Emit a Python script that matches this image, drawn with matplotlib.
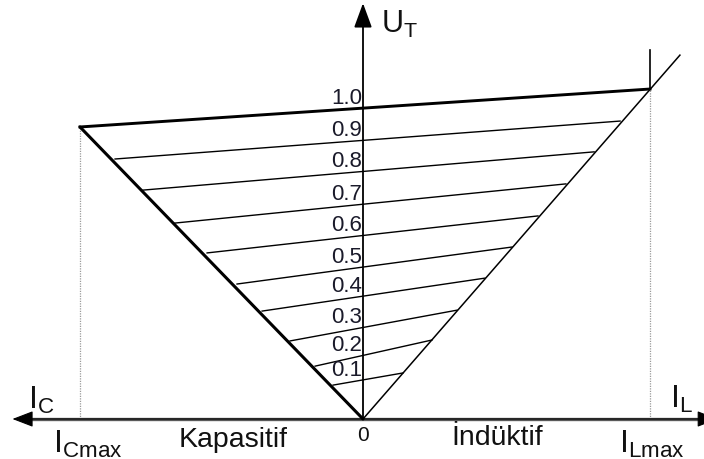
import matplotlib
matplotlib.use("Agg")
import matplotlib.pyplot as plt
from matplotlib.patches import FancyArrowPatch
import numpy as np

plt.rcParams['font.family'] = ['Liberation Sans', 'DejaVu Sans']
plt.rcParams['mathtext.fontset'] = 'custom'
plt.rcParams['mathtext.rm'] = 'Liberation Sans'

# U_T levels and where each characteristic line meets the two limit lines
u_labels = ['0.1', '0.2', '0.3', '0.4', '0.5', '0.6', '0.7', '0.8', '0.9', '1.0']
left_I = [-0.105, -0.168, -0.256, -0.354, -0.442, -0.547, -0.660, -0.772, -0.870, -0.993]
left_U = [0.109, 0.170, 0.251, 0.347, 0.434, 0.534, 0.630, 0.736, 0.836, 0.939]
right_I = [0.140, 0.242, 0.330, 0.428, 0.523, 0.614, 0.712, 0.811, 0.902, 1.007]
right_U = [0.148, 0.254, 0.350, 0.453, 0.553, 0.653, 0.756, 0.859, 0.958, 1.061]

# inductive limit line runs past the corner
ind_end = (1.112, 1.170)
lmax_top = 1.186

# axes extents
x_left, x_right = -1.23, 1.245
y_top = 1.337

fig = plt.figure(figsize=(7.04, 4.59), dpi=100)
ax = fig.add_axes([0, 0, 1, 1])
ax.set_xlim(-363 / 285, (704 - 363) / 285)
ax.set_ylim(-40 / 311, 419 / 311)
ax.axis('off')

# dotted guides down from the limits
ax.plot([left_I[-1], left_I[-1]], [0, left_U[-1]], ls=(0, (1, 1)), color='#9a9a9a', lw=0.9)
ax.plot([right_I[-1], right_I[-1]], [0, right_U[-1]], ls=(0, (1, 1)), color='#9a9a9a', lw=0.9)

# x axis: grey shaft, black heads
ax.plot([x_left + 0.03, x_right - 0.03], [0, 0], color='#5a5a5a', lw=2.4, zorder=2)
ax.add_patch(FancyArrowPatch((x_left, 0), (x_right, 0), arrowstyle='<|-|>,head_length=13,head_width=5',
                             mutation_scale=1, color='black', lw=0.8, shrinkA=0, shrinkB=0, zorder=3))
# y axis
ax.add_patch(FancyArrowPatch((0, 0), (0, y_top), arrowstyle='-|>,head_length=15,head_width=5.5',
                             mutation_scale=1, color='black', lw=1.3, shrinkA=0, shrinkB=0, zorder=3))

# capacitive and inductive limit lines
ax.plot([0, left_I[-1]], [0, left_U[-1]], color='black', lw=2.2, solid_capstyle='round')
ax.plot([0, ind_end[0]], [0, ind_end[1]], color='black', lw=1.1)
ax.plot([right_I[-1], right_I[-1]], [right_U[-1], lmax_top], color='black', lw=1.2)

for i, lab in enumerate(u_labels):
    lw = 2.1 if lab == '1.0' else 1.0
    ax.plot([left_I[i], right_I[i]], [left_U[i], right_U[i]], color='black', lw=lw)
    # value where the line crosses the U axis
    u0 = np.interp(0, [left_I[i], right_I[i]], [left_U[i], right_U[i]])
    ax.annotate(lab, (0, u0), xytext=(-1, 4), textcoords='offset pixels',
                ha='right', va='baseline', fontsize=16, color='#1a1a2a')

tc = '#111111'
ax.annotate(r'$\mathregular{U_T}$', (0, y_top), xytext=(18, -30), textcoords='offset pixels',
            ha='left', va='baseline', fontsize=22, color=tc, annotation_clip=False)
ax.annotate(r'$\mathregular{I_C}$', (x_left, 0), xytext=(16, 10), textcoords='offset pixels',
            ha='left', va='baseline', fontsize=23, color=tc, annotation_clip=False)
ax.annotate(r'$\mathregular{I_L}$', (x_right, 0), xytext=(-48, 11), textcoords='offset pixels',
            ha='left', va='baseline', fontsize=23, color=tc, annotation_clip=False)
ax.annotate(r'$\mathregular{I_{Cmax}}$', (left_I[-1], 0), xytext=(-27, -34), textcoords='offset pixels',
            ha='left', va='baseline', fontsize=23, color=tc)
ax.annotate(r'$\mathregular{I_{Lmax}}$', (right_I[-1], 0), xytext=(-31, -34), textcoords='offset pixels',
            ha='left', va='baseline', fontsize=23, color=tc)
ax.annotate('Kapasitif', (-0.455, 0), xytext=(0, -28), textcoords='offset pixels',
            ha='center', va='baseline', fontsize=20.5, color=tc)
ax.annotate('İndüktif', (0.47, 0), xytext=(0, -26), textcoords='offset pixels',
            ha='center', va='baseline', fontsize=20.5, color=tc)
ax.annotate('0', (0, 0), xytext=(0, -22), textcoords='offset pixels',
            ha='center', va='baseline', fontsize=15, color=tc)

fig.savefig('out.png', dpi=100)
